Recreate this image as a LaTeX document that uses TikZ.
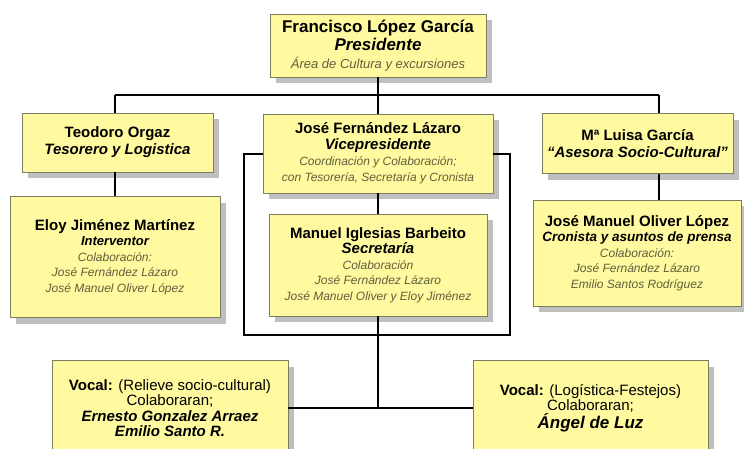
\documentclass[tikz,border=0pt]{standalone}
\usepackage{fontspec}
\setmainfont{Liberation Sans}
\usetikzlibrary{shadows}
\usetikzlibrary{positioning}

\definecolor{amarillo}{RGB}{255,249,160}
\definecolor{borde}{RGB}{125,125,95}
\definecolor{gristexto}{RGB}{95,95,60}

\newcommand{\nombre}[1]{{\bfseries #1}}
\newcommand{\cargo}[1]{{\bfseries\itshape #1}}
\newcommand{\nota}[1]{{\fontsize{12}{15}\selectfont\itshape\color{gristexto}#1}}

\begin{document}
\begin{tikzpicture}[x=1pt, y=-1pt,
    caja/.style={draw=borde, line width=0.6pt, fill=amarillo, align=center, inner sep=1pt,
        font=\fontsize{15}{15.5}\selectfont,
        general shadow={shadow xshift=6pt, shadow yshift=-6pt, fill=black!25}},
    linea/.style={line width=2pt, black}]

    \useasboundingbox (0,0) rectangle (744,448);

    \node[caja, minimum width=216pt, minimum height=63pt, font=\fontsize{17}{18}\selectfont] (pres) at (378,45.5) {\nombre{Francisco López García}\\ \cargo{Presidente}\\ {\fontsize{13}{15}\selectfont\itshape\color{gristexto}Área de Cultura y excursiones}};

    \node[caja, minimum width=191pt, minimum height=59pt, font=\fontsize{15}{17}\selectfont] (teo) at (117.5,142.5) {\nombre{Teodoro Orgaz}\\ \cargo{Tesorero y Logistica}};
    \node[caja, minimum width=230pt, minimum height=79pt, font=\fontsize{15}{16}\selectfont] (vice) at (378,153.5) {\nombre{José Fernández Lázaro}\\ \cargo{Vicepresidente}\\ \nota{Coordinación y Colaboración;}\\ \nota{con Tesorería, Secretaría y Cronista}};
    \node[caja, minimum width=191pt, minimum height=60pt, font=\fontsize{15}{17}\selectfont] (luisa) at (637.5,143.5) {\nombre{Mª Luisa García}\\ \cargo{“Asesora Socio-Cultural”}};

    \node[caja, minimum width=210pt, minimum height=121pt] (eloy) at (115,257) {\nombre{Eloy Jiménez Martínez}\\ {\fontsize{13}{15}\selectfont\cargo{Interventor}}\\ \nota{Colaboración:}\\ \nota{José Fernández Lázaro}\\ \nota{José Manuel Oliver López}};
    \node[caja, minimum width=218pt, minimum height=102pt] (sec) at (378,265) {\nombre{Manuel Iglesias Barbeito}\\ \cargo{Secretaría}\\ \nota{Colaboración}\\ \nota{José Fernández Lázaro}\\ \nota{José Manuel Oliver y Eloy Jiménez}};
    \node[caja, minimum width=208pt, minimum height=106pt] (oliver) at (637,253) {\nombre{José Manuel Oliver López}\\ {\fontsize{13.5}{15}\selectfont\cargo{Cronista y asuntos de prensa}}\\ \nota{Colaboración:}\\ \nota{José Fernández Lázaro}\\ \nota{Emilio Santos Rodríguez}};

    \node[caja, minimum width=236pt, minimum height=95pt] (voc1) at (170,408) {\nombre{Vocal:} (Relieve socio-cultural)\\ Colaboraran;\\ \cargo{Ernesto Gonzalez Arraez}\\ \cargo{Emilio Santo R.}};
    \node[caja, minimum width=235pt, minimum height=95pt] (voc2) at (590.5,408) {\nombre{Vocal:} (Logística-Festejos)\\ Colaboraran;\\ {\fontsize{17}{18}\selectfont\cargo{Ángel de Luz}}};

    \coordinate (busL) at (115,95);
    \coordinate (busR) at (659,95);
    \coordinate (marcoL) at (244,335);
    \coordinate (marcoR) at (510,335);

    \draw[linea] (busL) -- (busR);
    \draw[linea] (pres.south) -- (pres.south |- busL);
    \draw[linea] (busL) -- (busL |- teo.north);
    \draw[linea] (pres.south |- busL) -- (vice.north);
    \draw[linea] (busR) -- (busR |- luisa.north);

    \draw[linea] (busL |- teo.south) -- (busL |- eloy.north);
    \draw[linea] (busR |- luisa.south) -- (busR |- oliver.north);
    \draw[linea] (vice.south) -- (sec.north);

    \draw[linea] (vice.west) -| (marcoL) -- (marcoR) |- (vice.east);
    \draw[linea] (sec.south) -- (sec.south |- voc1.east);
    \draw[linea] (voc1.east) -- (voc2.west);

\end{tikzpicture}
\end{document}
